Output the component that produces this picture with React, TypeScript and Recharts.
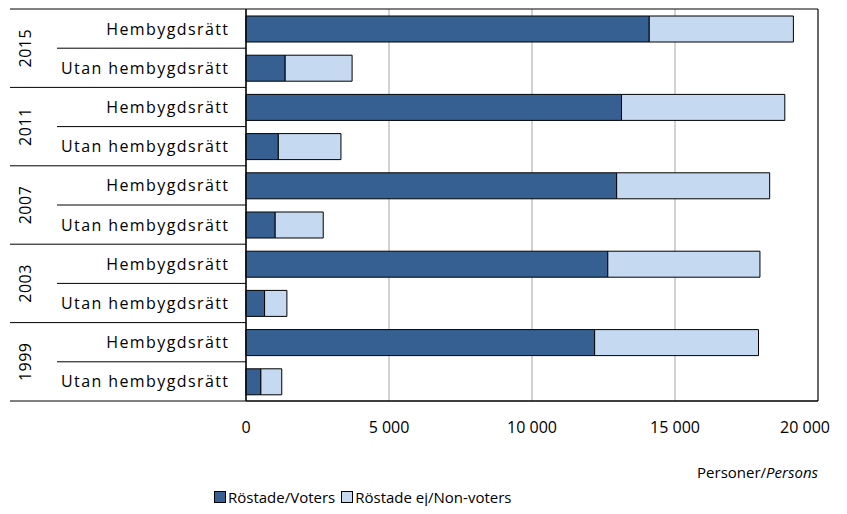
import React from 'react';
import { BarChart, Bar, XAxis, YAxis, CartesianGrid, Legend, ReferenceArea } from 'recharts';

const years = ['2015', '2011', '2007', '2003', '1999'];
const categories = ['Hembygdsrätt', 'Utan hembygdsrätt'];
const voters = [14100, 1370, 13130, 1130, 12960, 1020, 12650, 650, 12190, 520];
const nonVoters = [5040, 2340, 5710, 2190, 5350, 1680, 5320, 780, 5730, 730];
const xTicks = [0, 5000, 10000, 15000, 20000];
const seriesNames = ['Röstade/Voters', 'Röstade ej/Non-voters'];

const data = years.flatMap((yr, yi) =>
  categories.map((cat, ci) => {
    const i = yi * 2 + ci;
    return { key: `${yr}|${cat}|${i}`, voters: voters[i], nonVoters: nonVoters[i] };
  })
);

const W = 839;
const H = 498;
const MARGIN = { top: 1, right: 29, left: 0, bottom: 0 };
const LEGEND_H = 30;
const XAXIS_H = 75;
const PLOT_H = H - MARGIN.top - MARGIN.bottom - LEGEND_H - XAXIS_H;
const BAND = PLOT_H / data.length;
const FONT = "'Open Sans', sans-serif";
const DARK = '#366092';
const LIGHT = '#C5D9F1';

const fmt = (v: number) => (v === 0 ? '0' : `${Math.floor(v / 1000)} ${String(v % 1000).padStart(3, '0')}`);

const XTick = (props: any) => {
  const { x, y, payload } = props;
  const v = Number(payload.value);
  const isLast = v === xTicks[xTicks.length - 1];
  return (
    <text
      x={isLast ? x + 12 : x}
      y={y}
      dy="0.71em"
      textAnchor={isLast ? 'end' : 'middle'}
      fontFamily={FONT}
      fontSize={16}
      fill="#000"
    >
      {fmt(v)}
    </text>
  );
};

const YTick = (props: any) => {
  const { x, y, payload } = props;
  const [yr, cat, idxStr] = String(payload.value).split('|');
  const idx = Number(idxStr);
  const axisX = x + 18;
  const bottomY = y + BAND / 2;
  const topY = y - BAND / 2;
  const isFirstInGroup = idx % 2 === 0;
  return (
    <g>
      <text
        x={x + 1.4}
        y={y}
        textAnchor="end"
        dominantBaseline="central"
        fontFamily={FONT}
        fontSize={16}
        letterSpacing={1.4}
        fill="#000"
      >
        {cat}
      </text>
      {idx === 0 && <line x1={axisX - 236} x2={axisX} y1={topY} y2={topY} stroke="#000" strokeWidth={1} />}
      <line
        x1={isFirstInGroup ? axisX - 189 : axisX - 236}
        x2={axisX}
        y1={bottomY}
        y2={bottomY}
        stroke="#000"
        strokeWidth={1}
      />
      {isFirstInGroup && (
        <text
          x={axisX - 221}
          y={bottomY}
          textAnchor="middle"
          dominantBaseline="central"
          fontFamily={FONT}
          fontSize={16}
          letterSpacing={0.5}
          fill="#000"
          transform={`rotate(-90, ${axisX - 221}, ${bottomY})`}
        >
          {yr}
        </text>
      )}
    </g>
  );
};

const LegendContent = () => (
  <div style={{ display: 'flex', alignItems: 'center', fontFamily: FONT, fontSize: 15, color: '#000' }}>
    {[DARK, LIGHT].map((c, i) => (
      <div key={i} style={{ display: 'flex', alignItems: 'center', marginRight: 6 }}>
        <div style={{ width: 10, height: 10, background: c, border: '1px solid #000', marginRight: 2 }} />
        <span>{seriesNames[i]}</span>
      </div>
    ))}
  </div>
);

const AxisTitle = (props: any) => {
  const vb = props.viewBox || {};
  return (
    <text x={vb.x + vb.width} y={vb.y + 77} textAnchor="end" fontFamily={FONT} fontSize={15} fill="#000">
      Personer/<tspan fontStyle="italic">Persons</tspan>
    </text>
  );
};

export default function App() {
  return (
    <BarChart width={W} height={H} data={data} layout="vertical" margin={MARGIN} barSize={26}>
      <CartesianGrid horizontal={false} vertical stroke="#a6a6a6" />
      <XAxis
        type="number"
        domain={[0, 20000]}
        ticks={xTicks}
        tickLine={false}
        tickSize={0}
        tickMargin={21}
        height={XAXIS_H}
        axisLine={{ stroke: '#000' }}
        tick={XTick}
        interval={0}
        label={{ content: AxisTitle }}
      />
      <YAxis
        type="category"
        dataKey="key"
        width={238}
        tickLine={false}
        tickSize={0}
        tickMargin={18}
        axisLine={{ stroke: '#000' }}
        tick={YTick}
        interval={0}
      />
      <ReferenceArea x1={0} x2={20000} fill="none" stroke="#000" strokeWidth={1} ifOverflow="visible" />
      <Bar dataKey="voters" name={seriesNames[0]} stackId="a" fill={DARK} stroke="#000" strokeWidth={1} isAnimationActive={false} />
      <Bar dataKey="nonVoters" name={seriesNames[1]} stackId="a" fill={LIGHT} stroke="#000" strokeWidth={1} isAnimationActive={false} />
      <Legend
        verticalAlign="bottom"
        height={LEGEND_H}
        content={LegendContent}
        wrapperStyle={{ position: 'absolute', left: 206, top: 479, width: 'auto', height: LEGEND_H }}
      />
    </BarChart>
  );
}
